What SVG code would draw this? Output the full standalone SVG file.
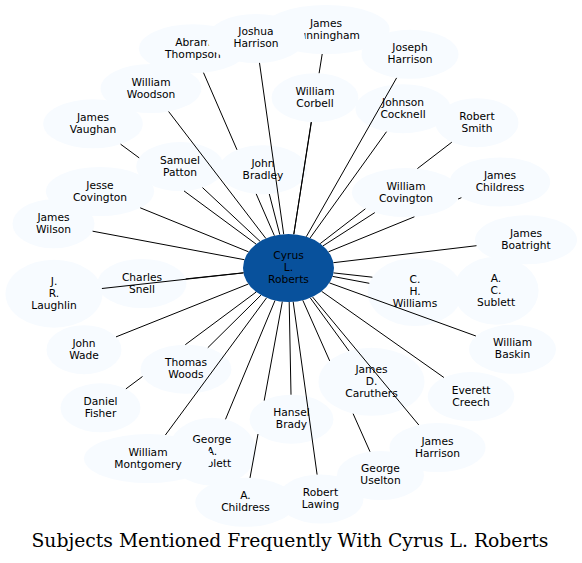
<svg xmlns="http://www.w3.org/2000/svg" width="582" height="563" viewBox="0 0 582 563">
<style>
.n{fill:#f7fbff;stroke:none}
.c{fill:#08519c;stroke:none}
.t{font-family:"DejaVu Sans","Liberation Sans",sans-serif;font-size:10.67px;text-anchor:middle;fill:#000}
.e{fill:none;stroke:#000;stroke-width:1}
.title{font-family:"DejaVu Serif","Liberation Serif",serif;font-size:18.67px;text-anchor:middle;fill:#000}
</style>
<rect width="582" height="563" fill="#fff"/>
<g id="nodes">
<g id="n-abram-thompson"><ellipse class="n" cx="193" cy="48.7" rx="54" ry="24.5"/><text class="t"><tspan x="193" y="45.6">Abram</tspan><tspan x="193" y="57.6">Thompson</tspan></text></g>
<g id="n-james-cunningham"><ellipse class="n" cx="326" cy="29.5" rx="63.6" ry="24.5"/><text class="t"><tspan x="326" y="26.6">James</tspan><tspan x="326" y="38.6">Cunningham</tspan></text></g>
<g id="n-joshua-harrison"><ellipse class="n" cx="256" cy="38.5" rx="49" ry="24.5"/><text class="t"><tspan x="256" y="35.4">Joshua</tspan><tspan x="256" y="47.4">Harrison</tspan></text></g>
<g id="n-joseph-harrison"><ellipse class="n" cx="410" cy="54.3" rx="48.5" ry="24.5"/><text class="t"><tspan x="410" y="51.1">Joseph</tspan><tspan x="410" y="63.1">Harrison</tspan></text></g>
<g id="n-william-corbell"><ellipse class="n" cx="315" cy="97.7" rx="43.4" ry="24.5"/><text class="t"><tspan x="315" y="94.6">William</tspan><tspan x="315" y="106.6">Corbell</tspan></text></g>
<g id="n-johnson-cocknell"><ellipse class="n" cx="403" cy="108.7" rx="47.5" ry="24.5"/><text class="t"><tspan x="403" y="105.6">Johnson</tspan><tspan x="403" y="117.6">Cocknell</tspan></text></g>
<g id="n-robert-smith"><ellipse class="n" cx="477" cy="122.7" rx="41.5" ry="24.5"/><text class="t"><tspan x="477" y="119.6">Robert</tspan><tspan x="477" y="131.6">Smith</tspan></text></g>
<g id="n-william-woodson"><ellipse class="n" cx="151" cy="88.5" rx="50.4" ry="24.5"/><text class="t"><tspan x="151" y="85.6">William</tspan><tspan x="151" y="97.6">Woodson</tspan></text></g>
<g id="n-james-vaughan"><ellipse class="n" cx="93" cy="123.8" rx="49.8" ry="24.5"/><text class="t"><tspan x="93" y="120.8">James</tspan><tspan x="93" y="132.8">Vaughan</tspan></text></g>
<g id="n-samuel-patton"><ellipse class="n" cx="180" cy="166.6" rx="43.8" ry="24.5"/><text class="t"><tspan x="180" y="163.6">Samuel</tspan><tspan x="180" y="175.6">Patton</tspan></text></g>
<g id="n-john-bradley"><ellipse class="n" cx="263" cy="169.7" rx="44.5" ry="24.5"/><text class="t"><tspan x="263" y="166.6">John</tspan><tspan x="263" y="178.6">Bradley</tspan></text></g>
<g id="n-william-covington"><ellipse class="n" cx="406" cy="192.6" rx="54" ry="24.5"/><text class="t"><tspan x="406" y="189.6">William</tspan><tspan x="406" y="201.6">Covington</tspan></text></g>
<g id="n-james-childress"><ellipse class="n" cx="500" cy="182" rx="50.2" ry="24.5"/><text class="t"><tspan x="500" y="179.1">James</tspan><tspan x="500" y="191.1">Childress</tspan></text></g>
<g id="n-jesse-covington"><ellipse class="n" cx="100" cy="191.5" rx="54" ry="24.5"/><text class="t"><tspan x="100" y="188.6">Jesse</tspan><tspan x="100" y="200.6">Covington</tspan></text></g>
<g id="n-james-wilson"><ellipse class="n" cx="53.5" cy="223.8" rx="41" ry="24.5"/><text class="t"><tspan x="53.5" y="220.9">James</tspan><tspan x="53.5" y="232.9">Wilson</tspan></text></g>
<g id="n-james-boatright"><ellipse class="n" cx="526" cy="239.8" rx="51" ry="24.5"/><text class="t"><tspan x="526" y="236.8">James</tspan><tspan x="526" y="248.8">Boatright</tspan></text></g>
<g id="n-jr-laughlin"><ellipse class="n" cx="54" cy="293.7" rx="48.5" ry="34"/><text class="t"><tspan x="54" y="284.6">J.</tspan><tspan x="54" y="296.6">R.</tspan><tspan x="54" y="308.6">Laughlin</tspan></text></g>
<g id="n-charles-snell"><ellipse class="n" cx="142" cy="283.5" rx="44.5" ry="24.5"/><text class="t"><tspan x="142" y="280.6">Charles</tspan><tspan x="142" y="292.6">Snell</tspan></text></g>
<g id="n-ch-williams"><ellipse class="n" cx="415" cy="292" rx="47.3" ry="34"/><text class="t"><tspan x="415" y="282.9">C.</tspan><tspan x="415" y="294.9">H.</tspan><tspan x="415" y="306.9">Williams</tspan></text></g>
<g id="n-ac-sublett"><ellipse class="n" cx="496" cy="290.7" rx="42.6" ry="34"/><text class="t"><tspan x="496" y="281.6">A.</tspan><tspan x="496" y="293.6">C.</tspan><tspan x="496" y="305.6">Sublett</tspan></text></g>
<g id="n-john-wade"><ellipse class="n" cx="84" cy="349.7" rx="37.5" ry="24.5"/><text class="t"><tspan x="84" y="346.6">John</tspan><tspan x="84" y="358.6">Wade</tspan></text></g>
<g id="n-william-baskin"><ellipse class="n" cx="512.5" cy="349.3" rx="43.5" ry="24.5"/><text class="t"><tspan x="512.5" y="346.3">William</tspan><tspan x="512.5" y="358.3">Baskin</tspan></text></g>
<g id="n-thomas-woods"><ellipse class="n" cx="186" cy="369.2" rx="45.5" ry="24.5"/><text class="t"><tspan x="186" y="366.1">Thomas</tspan><tspan x="186" y="378.1">Woods</tspan></text></g>
<g id="n-james-d-caruthers"><ellipse class="n" cx="371.5" cy="381.8" rx="53" ry="34"/><text class="t"><tspan x="371.5" y="372.8">James</tspan><tspan x="371.5" y="384.8">D.</tspan><tspan x="371.5" y="396.8">Caruthers</tspan></text></g>
<g id="n-daniel-fisher"><ellipse class="n" cx="100.5" cy="407.8" rx="40" ry="24.5"/><text class="t"><tspan x="100.5" y="404.8">Daniel</tspan><tspan x="100.5" y="416.8">Fisher</tspan></text></g>
<g id="n-everett-creech"><ellipse class="n" cx="471" cy="396.6" rx="43.3" ry="24.5"/><text class="t"><tspan x="471" y="393.6">Everett</tspan><tspan x="471" y="405.6">Creech</tspan></text></g>
<g id="n-hansel-brady"><ellipse class="n" cx="291.5" cy="419.2" rx="42" ry="24.5"/><text class="t"><tspan x="291.5" y="416.2">Hansel</tspan><tspan x="291.5" y="428.2">Brady</tspan></text></g>
<g id="n-george-a-sublett"><ellipse class="n" cx="212" cy="451.7" rx="44" ry="34"/><text class="t"><tspan x="212" y="442.6">George</tspan><tspan x="212" y="454.6">A.</tspan><tspan x="212" y="466.6">Sublett</tspan></text></g>
<g id="n-william-montgomery"><ellipse class="n" cx="148" cy="458.6" rx="64" ry="24.5"/><text class="t"><tspan x="148" y="455.6">William</tspan><tspan x="148" y="467.6">Montgomery</tspan></text></g>
<g id="n-james-harrison"><ellipse class="n" cx="437.5" cy="447.6" rx="48" ry="24.5"/><text class="t"><tspan x="437.5" y="444.6">James</tspan><tspan x="437.5" y="456.6">Harrison</tspan></text></g>
<g id="n-george-uselton"><ellipse class="n" cx="380.5" cy="475.5" rx="43.5" ry="24.5"/><text class="t"><tspan x="380.5" y="472.4">George</tspan><tspan x="380.5" y="484.4">Uselton</tspan></text></g>
<g id="n-a-childress"><ellipse class="n" cx="245.5" cy="502.3" rx="50.2" ry="24.5"/><text class="t"><tspan x="245.5" y="499.3">A.</tspan><tspan x="245.5" y="511.3">Childress</tspan></text></g>
<g id="n-robert-lawing"><ellipse class="n" cx="320.5" cy="499" rx="43" ry="24.5"/><text class="t"><tspan x="320.5" y="496">Robert</tspan><tspan x="320.5" y="508">Lawing</tspan></text></g>
<g id="n-cyrus-l-roberts"><ellipse class="c" cx="288.5" cy="268" rx="45.5" ry="34"/><text class="t"><tspan x="288.5" y="258.9">Cyrus</tspan><tspan x="288.5" y="270.9">L.</tspan><tspan x="288.5" y="282.9">Roberts</tspan></text></g>
</g>
<g id="edges">
<path class="e" d="M274.4,235.7L256.2,193.9M237,149.8L203.5,72.7"/>
<path class="e" d="M293.8,234.2L311.4,122.2M319.1,73.2L322.2,54"/>
<path class="e" d="M283.7,234.2L259.5,62.9"/>
<path class="e" d="M306.3,236.7L396.6,77.9"/>
<path class="e" d="M293.8,234.2L311.2,122.1"/>
<path class="e" d="M310,238.1L386.5,131.7"/>
<path class="e" d="M320.2,243.6L365.4,208.8M417.4,168.6L451.8,142.2"/>
<path class="e" d="M265.9,238.5L168.6,111.5"/>
<path class="e" d="M256.1,244.1L184,190.9M139.2,157.9L120.6,144.2"/>
<path class="e" d="M260.1,241.4L202.5,187.6"/>
<path class="e" d="M279.8,234.6L269.3,194"/>
<path class="e" d="M323,245.9L374.8,212.6"/>
<path class="e" d="M328.5,251.8L414.4,216.8M458.1,199L461.4,197.7"/>
<path class="e" d="M248.5,251.8L140.2,207.8"/>
<path class="e" d="M244.4,259.7L92.6,231.2"/>
<path class="e" d="M333.4,262.7L476.5,245.7"/>
<path class="e" d="M243.5,272.9L101.9,288.5"/>
<path class="e" d="M243.5,272.8L185.7,278.9"/>
<path class="e" d="M332.6,276.4L369.3,283.3"/>
<path class="e" d="M333.5,272.9L372.4,277.2"/>
<path class="e" d="M248.4,284L116,336.9"/>
<path class="e" d="M329.4,282.9L475.9,336"/>
<path class="e" d="M261,295.1L207.8,347.7"/>
<path class="e" d="M310.3,297.9L349,351"/>
<path class="e" d="M256.2,292L185.3,344.7M142.5,376.5L125.9,388.9"/>
<path class="e" d="M321.6,291.3L443.9,377.5"/>
<path class="e" d="M289.2,302L291,394.7"/>
<path class="e" d="M275,300.5L225.5,419.3"/>
<path class="e" d="M266.6,297.8L165.4,435"/>
<path class="e" d="M312.5,296.9L418.8,425"/>
<path class="e" d="M302.8,300.3L329.7,360.9M353.1,413.7L370,451.7"/>
<path class="e" d="M282.3,301.7L264.2,400.6M258,434L250,477.9"/>
<path class="e" d="M293.2,301.8L317.1,474.6"/>
</g>
<text class="title" x="290" y="547" textLength="517" lengthAdjust="spacingAndGlyphs">Subjects Mentioned Frequently With Cyrus L. Roberts</text>
</svg>
